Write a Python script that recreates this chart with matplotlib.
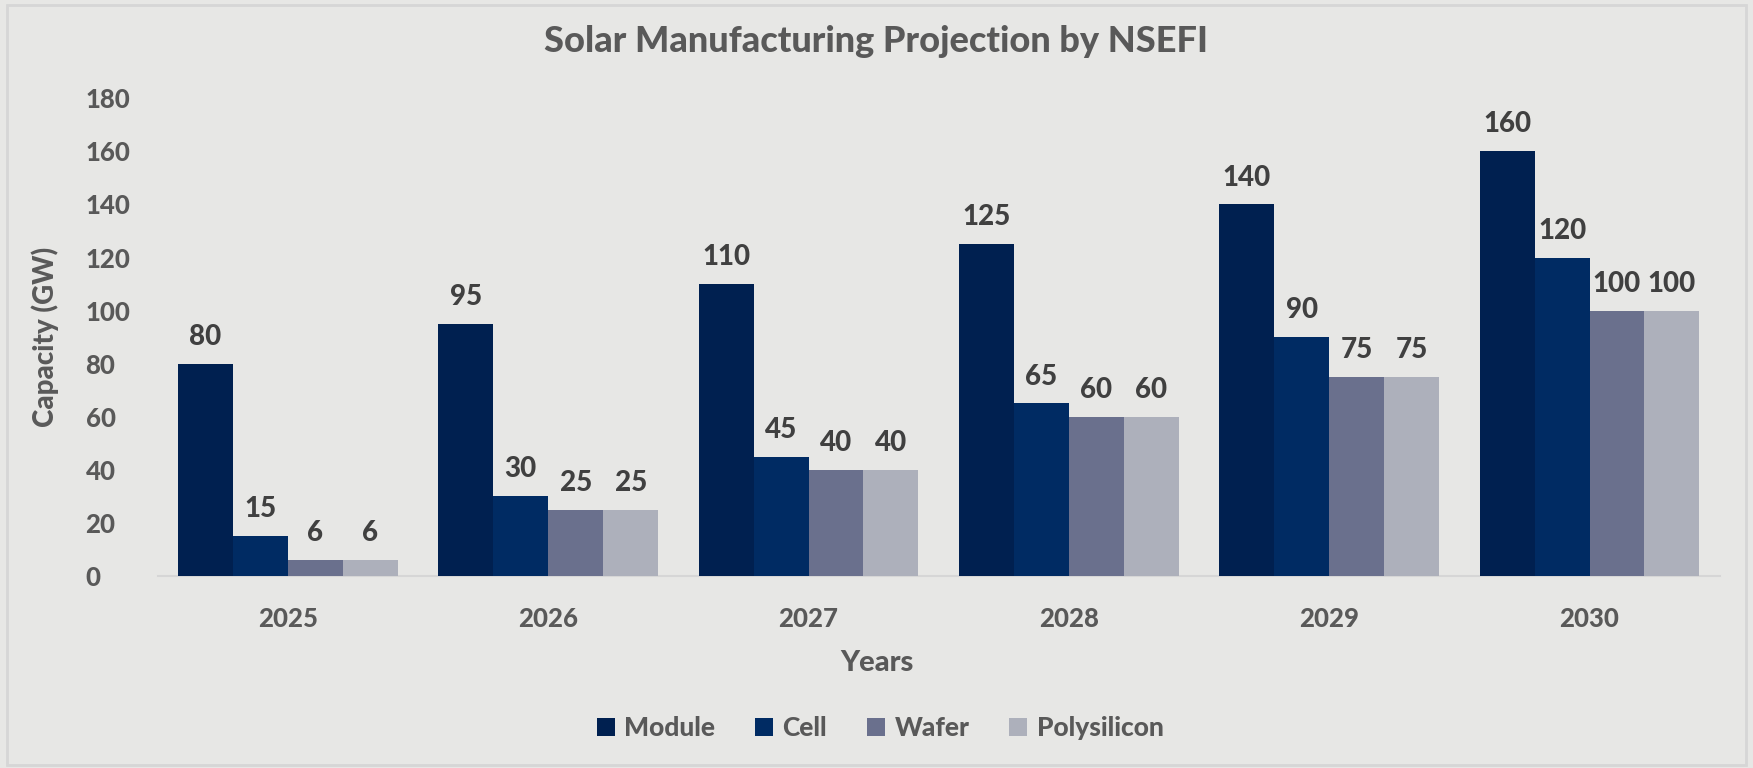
import numpy as np
import matplotlib.pyplot as plt
from matplotlib.patches import Rectangle

# ── data ──────────────────────────────────────────────────────────────────────
years = ["2025", "2026", "2027", "2028", "2029", "2030"]
series = ["Module", "Cell", "Wafer", "Polysilicon"]
module = [80, 95, 110, 125, 140, 160]
cell = [15, 30, 45, 65, 90, 120]
wafer = [6, 25, 40, 60, 75, 100]
polysilicon = [6, 25, 40, 60, 75, 100]

COLORS = ["#002050", "#002B63", "#6A708D", "#ADB0BB"]
BG = "#E7E7E5"
TXT = "#595959"
LBL = "#404040"
WT = "black"

plt.rcParams["font.family"] = ["Lato", "DejaVu Sans"]
plt.rcParams["font.weight"] = WT

fig = plt.figure(figsize=(17.53, 7.68), dpi=100, facecolor=BG)
ax = fig.add_axes([0.090, 0.25, 0.891, 0.622], facecolor=BG)

x = np.arange(len(years))
w = 0.211
for i, (name, vals) in enumerate(zip(series, [module, cell, wafer, polysilicon])):
    pos = x + (i - 1.5) * w
    ax.bar(pos, vals, width=w, color=COLORS[i], label=name,
           edgecolor="none", zorder=3)
    for xi, v in zip(pos, vals):
        ax.annotate(f"{v}", (xi, v), xytext=(0, 10), textcoords="offset points",
                    ha="center", va="bottom", fontsize=20, fontweight=WT,
                    color=LBL)

ax.set_xlim(-0.5, len(years) - 0.5)
ax.set_ylim(0, 180)
ax.set_yticks(range(0, 181, 20))
ax.set_xticks(x)
ax.set_xticklabels(years)
ax.tick_params(axis="both", length=0, labelsize=18.5, labelcolor=TXT)
ax.tick_params(axis="x", pad=22)
ax.tick_params(axis="y", pad=52)
for lab in ax.get_yticklabels():
    lab.set_horizontalalignment("left")
    lab.set_fontweight(WT)
for lab in ax.get_xticklabels():
    lab.set_fontweight(WT)
for s in ["top", "right", "left"]:
    ax.spines[s].set_visible(False)
ax.spines["bottom"].set_color("#D6D6D6")
ax.spines["bottom"].set_linewidth(1.5)

ax.set_ylabel("Capacity (GW)", fontsize=20, fontweight=WT, color=TXT)
ax.yaxis.set_label_coords(-0.063, 0.5)
fig.text(0.5, 0.137, "Years", ha="center", va="center", fontsize=21,
         fontweight=WT, color=TXT)

fig.suptitle("Solar Manufacturing Projection by NSEFI", fontsize=26,
             fontweight=WT, color=TXT, y=0.967)

leg = fig.legend(loc="center", bbox_to_anchor=(0.502, 0.052), ncol=4, frameon=False,
                 prop={"size": 19, "weight": WT}, handlelength=0.7,
                 handleheight=0.7, handletextpad=0.35, columnspacing=1.5)
for t in leg.get_texts():
    t.set_color(TXT)

fig.patches.append(Rectangle((0.004, 0.004), 0.992, 0.99, transform=fig.transFigure,
                             fill=False, edgecolor="#D6D6D6", linewidth=2))

plt.savefig("out.png", dpi=100, facecolor=BG)
plt.close()
